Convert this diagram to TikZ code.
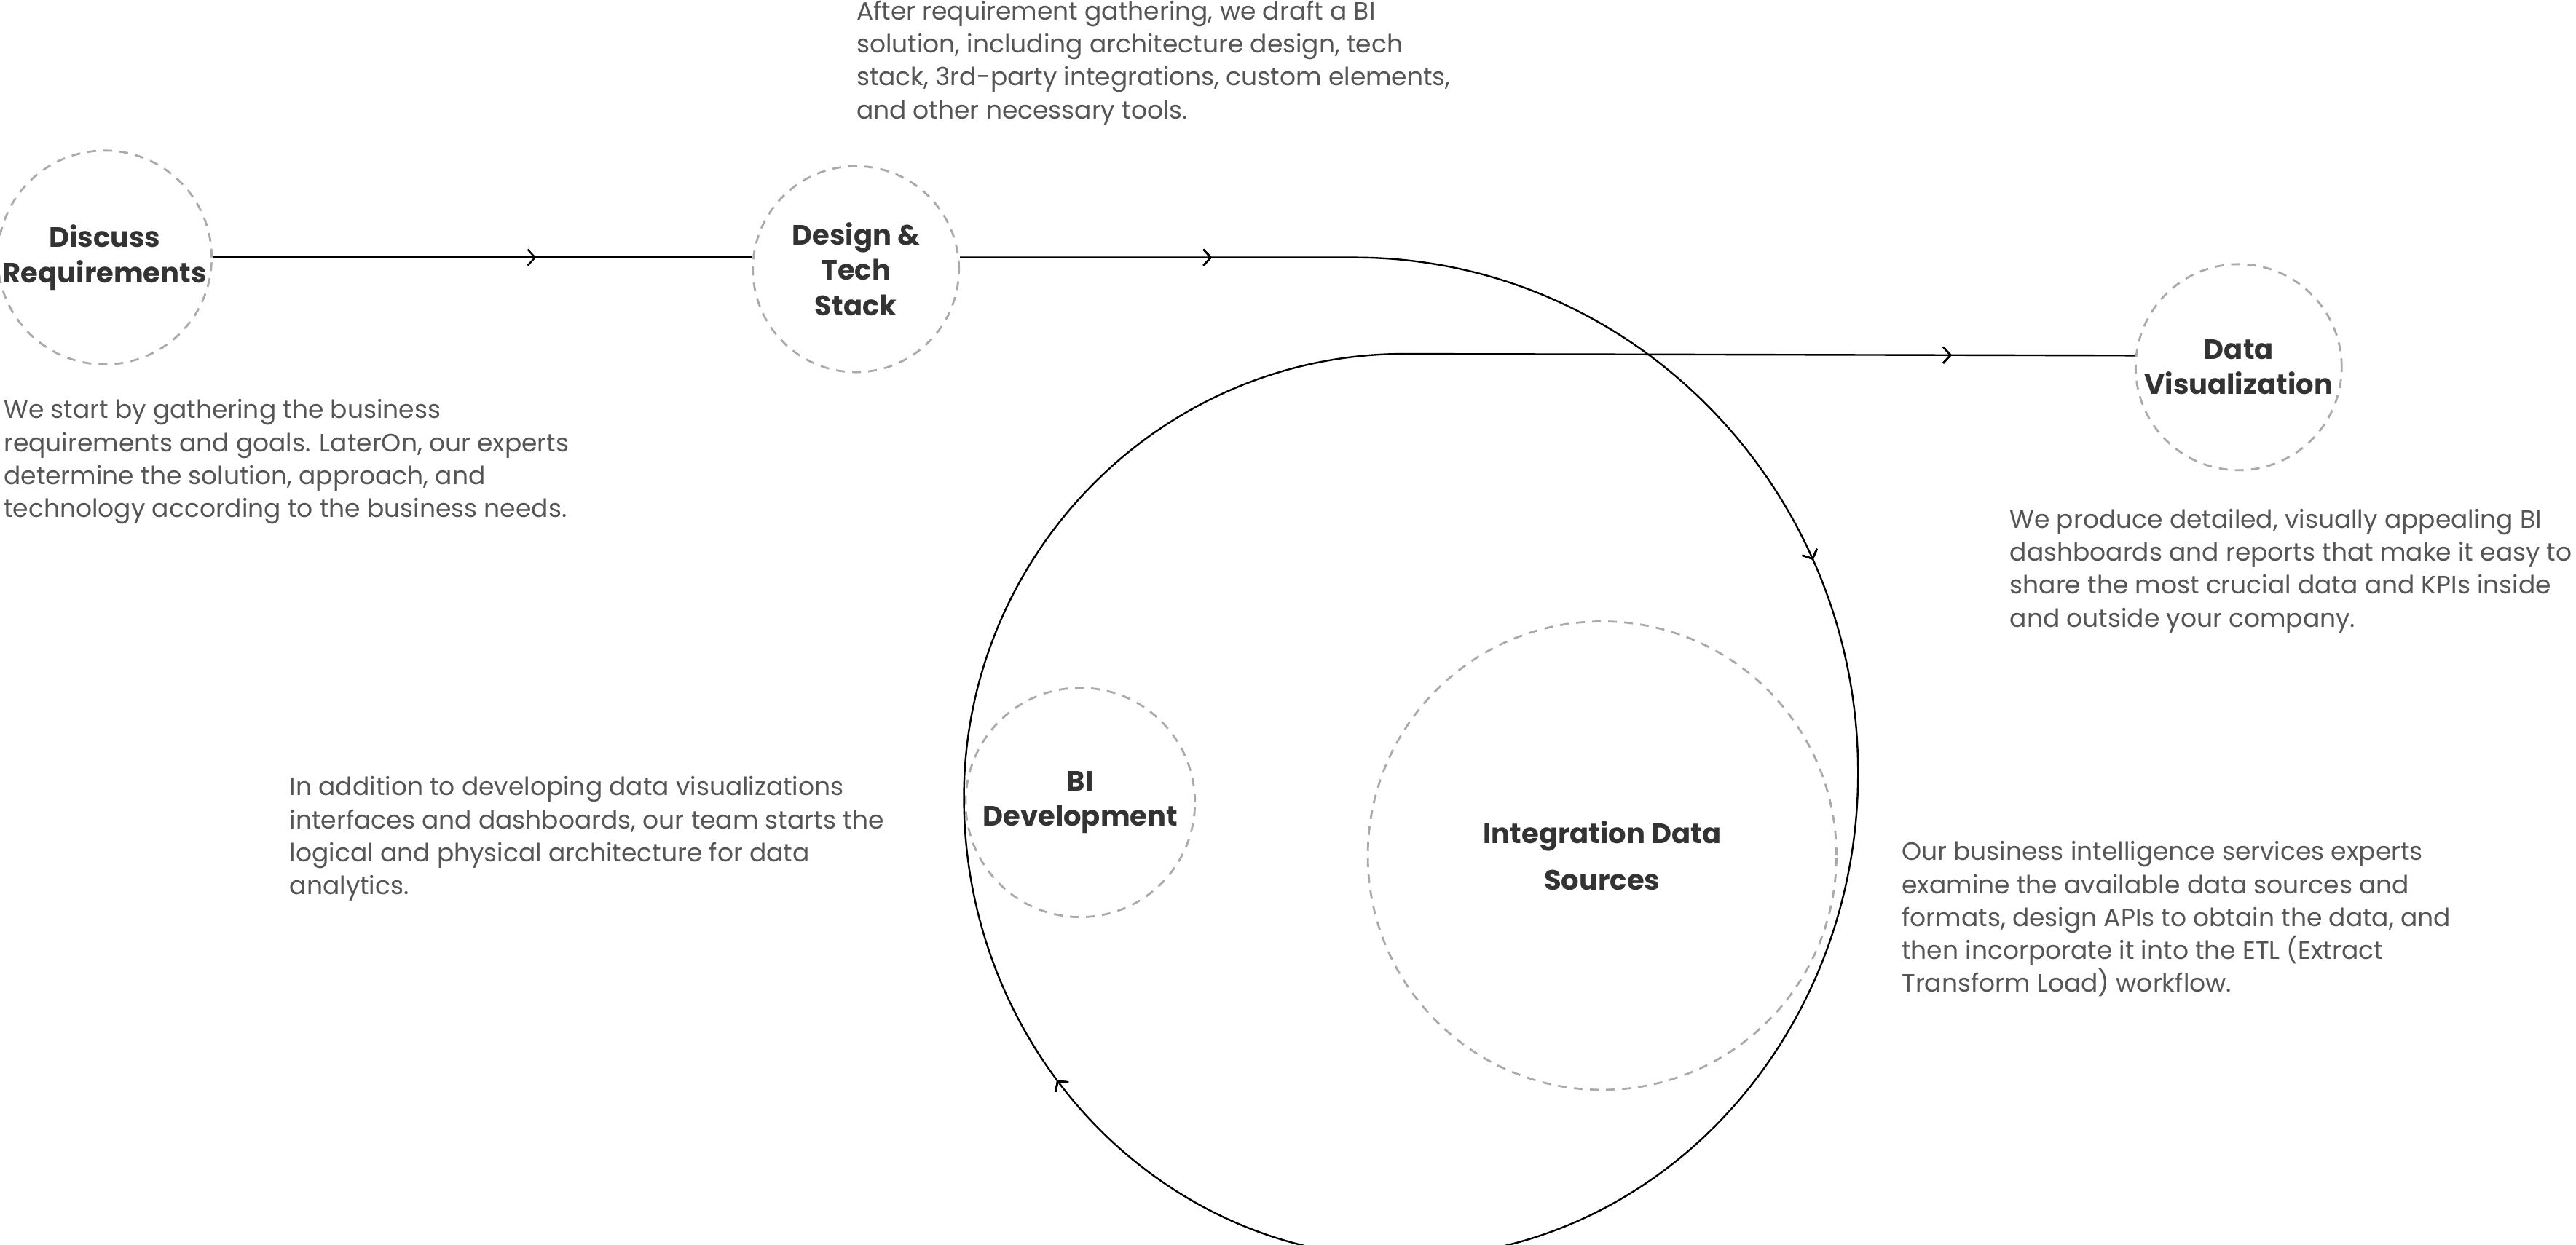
\documentclass[tikz,border=0pt]{standalone}
\usepackage{fontspec}
\setmainfont{Poppins}
\usetikzlibrary{arrows.meta, positioning, decorations.markings}
\definecolor{StepGray}{RGB}{170, 170, 170}
\definecolor{TextGray}{RGB}{85, 85, 85}
\definecolor{LabelDark}{RGB}{51, 51, 51}

\tikzset{
  stage/.style={circle, draw=StepGray, line width=0.7pt, dash pattern=on 3pt off 2.5pt,
               align=center, font=\bfseries\fontsize{9.6}{12}\selectfont, text=LabelDark, inner sep=0pt},
  note/.style={anchor=north west, align=left, font=\fontsize{8.6}{11.3}\selectfont, text=TextGray, inner sep=0pt},
  flow/.style={line width=0.6pt, black},
  midtip/.style={postaction={decorate}, decoration={markings, mark=at position #1 with {\arrow{Straight Barb[length=2.5pt,width=5.5pt]}}}}
}

\begin{document}
\begin{tikzpicture}[x=0.02cm,y=-0.02cm]
  \useasboundingbox (0,0) rectangle (1550,749);
  % stages
  \node[stage, minimum size=2.48cm] (discuss) at (63,155) {Discuss\\Requirements};
  \node[stage, minimum size=2.48cm] (design) at (515,162) {Design \&\\Tech\\Stack};
  \node[stage, minimum size=2.48cm] (visual) at (1347,221) {Data\\Visualization};
  \node[stage, minimum size=2.76cm] (develop) at (650,483) {BI\\Development};
  \node[stage, minimum size=5.64cm, font=\bfseries\fontsize{9.6}{16}\selectfont] (sources) at (964,515) {Integration Data\\Sources};
  \coordinate (loopin) at (815,155);
  \coordinate (loopout) at (845,213);
  % connectors
  \draw[flow, midtip=0.6] (discuss.east |- 0,155) -- (design.west |- 0,155);
  \draw[flow, midtip/.list={0.062,0.24,0.575,0.955}]
    (design.east |- 0,155) -- (loopin)
    .. controls (982,155) and (1118,294) .. (1118,465)
    .. controls (1118,626) and (996,757) .. (845,757)
    .. controls (699,757) and (580,633) .. (580,480)
    .. controls (580,333) and (699,213) .. (loopout)
    -- (visual.west |- 0,214);
  % notes
  \node[note] (n1) at (2,240) {We start by gathering the business\\requirements and goals. LaterOn, our experts\\determine the solution, approach, and\\technology according to the business needs.};
  \node[note] (n2) at (515,0) {After requirement gathering, we draft a BI\\solution, including architecture design, tech\\stack, 3rd-party integrations, custom elements,\\and other necessary tools.};
  \node[note] (n3) at (1209,306) {We produce detailed, visually appealing BI\\dashboards and reports that make it easy to\\share the most crucial data and KPIs inside\\and outside your company.};
  \node[note] (n4) at (174,467) {In addition to developing data visualizations\\interfaces and dashboards, our team starts the\\logical and physical architecture for data\\analytics.};
  \node[note] (n5) at (1144,506) {Our business intelligence services experts\\examine the available data sources and\\formats, design APIs to obtain the data, and\\then incorporate it into the ETL (Extract\\Transform Load) workflow.};
\end{tikzpicture}
\end{document}
